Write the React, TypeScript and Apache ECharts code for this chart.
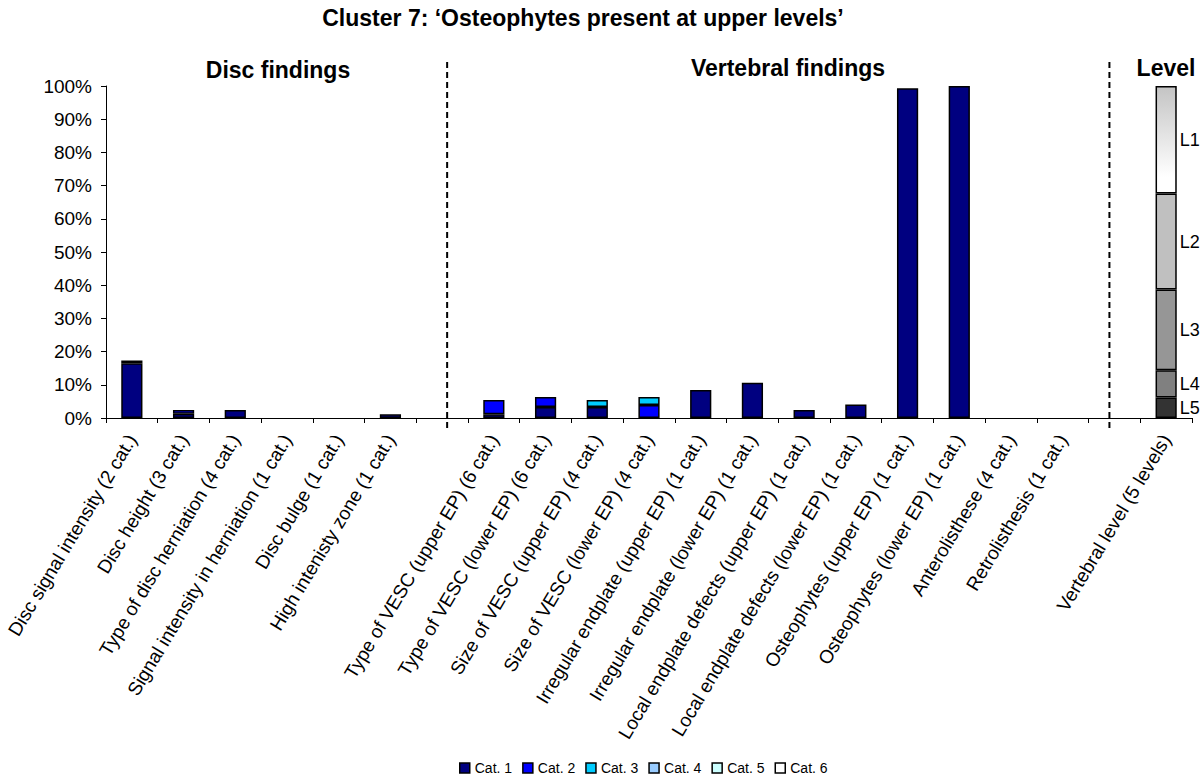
import React, { useEffect, useRef } from "react";
import * as echarts from "echarts";

const categories = [
  "Disc signal intensity (2 cat.)",
  "Disc height (3 cat.)",
  "Type of disc herniation (4 cat.)",
  "Signal intensity in herniation (1 cat.)",
  "Disc bulge (1 cat.)",
  "High intenisty zone (1 cat.)",
  "",
  "Type of VESC (upper EP) (6 cat.)",
  "Type of VESC (lower EP) (6 cat.)",
  "Size of VESC (upper EP) (4 cat.)",
  "Size of VESC (lower EP) (4 cat.)",
  "Irregular endplate (upper EP) (1 cat.)",
  "Irregular endplate (lower EP) (1 cat.)",
  "Local endplate defects (upper EP) (1 cat.)",
  "Local endplate defects (lower EP) (1 cat.)",
  "Osteophytes (upper EP) (1 cat.)",
  "Osteophytes (lower EP) (1 cat.)",
  "Anterolisthese (4 cat.)",
  "Retrolisthesis (1 cat.)",
  " ",
  "Vertebral level (5 levels)",
];

const cat1 = [16.5, 1.3, 2.4, 0, 0, 1.1, null, 1.1, 3.3, 3.3, 0, 8.4, 10.6, 2.4, 4.1, 99.3, 100, 0, 0, null, null];
const cat2 = [0.8, 1.1, 0, 0, 0, 0, null, 4.3, 3.0, 0, 3.9, 0, 0, 0, 0, 0, 0, 0, 0, null, null];
const cat3 = [0, 0, 0, 0, 0, 0, null, 0, 0, 2.1, 2.4, 0, 0, 0, 0, 0, 0, 0, 0, null, null];
const cat4 = [0, 0, 0, 0, 0, 0, null, 0, 0, 0, 0, 0, 0, 0, 0, 0, 0, 0, 0, null, null];
const cat5 = [0, 0, 0, 0, 0, 0, null, 0, 0, 0, 0, 0, 0, 0, 0, 0, 0, 0, 0, null, null];
const cat6 = [0, 0, 0, 0, 0, 0, null, 0, 0, 0, 0, 0, 0, 0, 0, 0, 0, 0, 0, null, null];

const catNames = ["Cat. 1", "Cat. 2", "Cat. 3", "Cat. 4", "Cat. 5", "Cat. 6"];
const catColors = ["#000080", "#0000FF", "#00CCFF", "#99CCFF", "#CCFFFF", "#FFFFFF"];

// vertebral level shares, bottom (L5) to top (L1)
const levelNames = ["L5", "L4", "L3", "L2", "L1"];
const levelValues = [6.2, 8.2, 24.3, 28.9, 32.4];

const yTicks = { min: 0, max: 100, interval: 10 };

const FONT = "'Liberation Sans', Arial, Helvetica, sans-serif";

export default function App() {
  const ref = useRef<HTMLDivElement>(null);

  useEffect(() => {
    if (!ref.current) return;
    const chart = echarts.init(ref.current, null, { renderer: "svg" });
    const n = categories.length;
    const catData = [cat1, cat2, cat3, cat4, cat5, cat6];

    const catSeries = catData.map((arr, si) => ({
      name: catNames[si],
      type: "bar",
      stack: "all",
      barWidth: "41%",
      itemStyle: { color: catColors[si], borderColor: "#000", borderWidth: 1.5 },
      data: arr.map((v, i) => {
        if (v === null || v === 0) return "-";
        // second category of the 2-category disc signal item is drawn in navy
        if (si === 1 && i === 0) return { value: v, itemStyle: { color: catColors[0] } };
        return v;
      }),
    }));

    const levelFill = [
      "#333333",
      "#808080",
      "#969696",
      "#C0C0C0",
      new echarts.graphic.LinearGradient(0, 0, 0, 1, [
        { offset: 0, color: "#C4C4C4" },
        { offset: 0.85, color: "#FFFFFF" },
        { offset: 1, color: "#FFFFFF" },
      ]),
    ];

    const levelSeries = levelValues.map((v, li) => ({
      name: levelNames[li],
      type: "bar",
      stack: "all",
      barWidth: "41%",
      itemStyle: { color: levelFill[li], borderColor: "#000", borderWidth: 1.5 },
      label: {
        show: true,
        position: "right",
        distance: 3,
        formatter: levelNames[li],
        color: "#000",
        fontSize: 18,
        fontFamily: FONT,
      },
      data: categories.map((_, i) => (i === n - 1 ? v : "-")),
    }));

    const option: any = {
      animation: false,
      backgroundColor: "#fff",
      textStyle: { fontFamily: FONT },
      grid: { left: 106, right: 8, top: 86, bottom: 362, containLabel: false },
      legend: {
        data: catNames,
        left: 459,
        top: 760,
        padding: 0,
        itemWidth: 10,
        itemHeight: 10,
        itemGap: 10,
        icon: "rect",
        itemStyle: { borderColor: "#000", borderWidth: 1.5 },
        textStyle: { fontSize: 14, lineHeight: 16, color: "#000", fontFamily: FONT },
      },
      xAxis: {
        type: "category",
        data: categories,
        axisLine: { show: true, lineStyle: { color: "#000", width: 1 } },
        axisTick: { show: true, length: 5, interval: 0, lineStyle: { color: "#000" } },
        axisLabel: {
          interval: 0,
          rotate: 59,
          fontSize: 19,
          color: "#000",
          fontFamily: FONT,
          margin: 18,
        },
        splitLine: { show: false },
      },
      yAxis: {
        type: "value",
        min: yTicks.min,
        max: yTicks.max,
        interval: yTicks.interval,
        axisLine: { show: true, lineStyle: { color: "#000", width: 1 } },
        axisTick: { show: true, length: 5, lineStyle: { color: "#000" } },
        axisLabel: { formatter: "{value}%", fontSize: 19, color: "#000", fontFamily: FONT, margin: 14 },
        splitLine: { show: false },
      },
      series: [...catSeries, ...levelSeries],
    };

    chart.setOption(option);

    const xa = chart.convertToPixel({ xAxisIndex: 0 }, 6) as number;
    const xb = chart.convertToPixel({ xAxisIndex: 0 }, 19) as number;
    const dash = (x: number) => ({
      type: "line",
      shape: { x1: x, y1: 62, x2: x, y2: 432 },
      style: { stroke: "#000", lineWidth: 2, lineDash: [6, 4] },
      z: 10,
    });
    const heading = (text: string, x: number, y: number, size: number) => ({
      type: "text",
      x,
      y,
      style: {
        text,
        fontSize: size,
        fontWeight: "bold",
        fontFamily: FONT,
        fill: "#000",
        textAlign: "center",
        textVerticalAlign: "middle",
      },
    });

    chart.setOption({
      graphic: [
        dash(xa + 5),
        dash(xb - 5),
        heading("Cluster 7: \u2018Osteophytes present at upper levels\u2019", 583, 18, 23),
        heading("Disc findings", 278, 70, 23),
        heading("Vertebral findings", 788, 68, 23),
        heading("Level", 1166, 68, 23),
      ],
    });

    return () => chart.dispose();
  }, []);

  return (
    <div
      ref={ref}
      style={{ position: "absolute", left: 0, top: 0, width: 1200, height: 780 }}
    />
  );
}
